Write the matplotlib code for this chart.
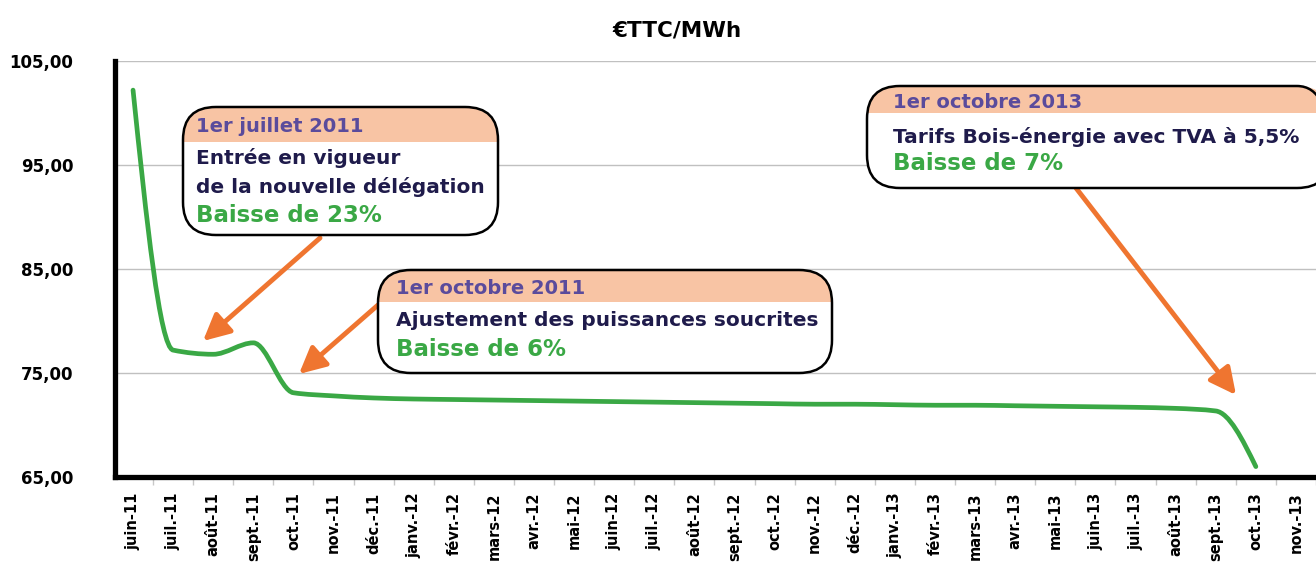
import matplotlib.pyplot as plt
from matplotlib.path import Path
from matplotlib.patches import PathPatch, FancyBboxPatch, Rectangle, FancyArrowPatch
import numpy as np

plt.rcParams['font.family'] = ['DejaVu Sans']

months = ['juin-11', 'juil.-11', 'août-11', 'sept.-11', 'oct.-11', 'nov.-11', 'déc.-11',
          'janv.-12', 'févr.-12', 'mars-12', 'avr.-12', 'mai-12', 'juin-12', 'juil.-12',
          'août-12', 'sept.-12', 'oct.-12', 'nov.-12', 'déc.-12', 'janv.-13', 'févr.-13',
          'mars-13', 'avr.-13', 'mai-13', 'juin-13', 'juil.-13', 'août-13', 'sept.-13',
          'oct.-13', 'nov.-13']
prices = [102.2, 77.2, 76.8, 77.9, 73.1, 72.8, 72.6, 72.5, 72.45, 72.4, 72.35, 72.3,
          72.25, 72.2, 72.15, 72.1, 72.05, 72.0, 72.0, 71.95, 71.9, 71.9, 71.85, 71.8,
          71.75, 71.7, 71.6, 71.35, 66.0]
yticks = [65, 75, 85, 95, 105]
ytick_labels = ['65,00', '75,00', '85,00', '95,00', '105,00']

W, H = 1316, 564
GREEN = '#3aa845'
ORANGE = '#ef7530'
PEACH = '#f8c4a4'
PURPLE = '#5a4b9c'
NAVY = '#1f1b4b'


def fpx(x, y):
    # pixel position (from top-left) -> figure fraction
    return x / W, 1 - y / H


def smooth_slopes(y):
    # monotone (pchip-like) slopes so the smoothed line does not overshoot
    y = np.asarray(y, float)
    d = np.diff(y)
    m = np.zeros_like(y)
    for k in range(1, len(y) - 1):
        if d[k - 1] * d[k] > 0:
            m[k] = 2 / (1 / d[k - 1] + 1 / d[k])
    for k, (a, b) in [(0, (d[0], d[1])), (len(y) - 1, (d[-1], d[-2]))]:
        s = (3 * a - b) / 2
        if np.sign(s) != np.sign(a):
            s = 0
        elif np.sign(a) != np.sign(b) and abs(s) > abs(3 * a):
            s = 3 * a
        m[k] = s
    return m


fig = plt.figure(figsize=(W / 100, H / 100), dpi=100)
ax = fig.add_axes([115 / W, 1 - 477 / H, 1 - 115 / W, (477 - 61) / H])

slopes = smooth_slopes(prices)
verts = [(0, prices[0])]
codes = [Path.MOVETO]
for i in range(len(prices) - 1):
    verts += [(i + 1 / 3, prices[i] + slopes[i] / 3),
              (i + 2 / 3, prices[i + 1] - slopes[i + 1] / 3),
              (i + 1, prices[i + 1])]
    codes += [Path.CURVE4] * 3
ax.add_patch(PathPatch(Path(verts, codes), fill=False, edgecolor=GREEN, lw=3.4,
                       capstyle='round', zorder=3))

ax.set_xlim(-0.45, 29.35)
ax.set_ylim(65, 105)
ax.set_yticks(yticks)
ax.set_yticklabels(ytick_labels, fontsize=12, fontweight='bold')
ax.set_xticks(range(len(months)))
ax.set_xticklabels(months, rotation=90, fontsize=10.5, fontweight='bold', va='top')
ax.tick_params(axis='y', length=0, pad=30)
ax.tick_params(axis='x', length=0, pad=11)
ax.set_xticks(np.arange(len(months)) + 0.5, minor=True)
ax.tick_params(axis='x', which='minor', length=6, color='#c8c8c8', width=1)
ax.grid(axis='y', color='#c0c0c0', lw=1)
for s in ['top', 'right']:
    ax.spines[s].set_visible(False)
for s in ['left', 'bottom']:
    ax.spines[s].set_linewidth(3.8)
    ax.spines[s].set_zorder(4)

fig.text(*fpx(677, 31), '€TTC/MWh', ha='center', va='center', fontsize=15.5,
         fontweight='bold')


def callout(x0, y0, x1, y1, head_bottom, lines):
    bx, by = fpx(x0, y1)
    bw, bh = (x1 - x0) / W, (y1 - y0) / H
    style = 'round,pad=0,rounding_size=0.025'
    box = FancyBboxPatch((bx, by), bw, bh, boxstyle=style, mutation_aspect=W / H,
                         transform=fig.transFigure, facecolor='white',
                         edgecolor='none', zorder=5)
    fig.add_artist(box)
    band = Rectangle(fpx(x0, head_bottom), bw, (head_bottom - y0) / H,
                     transform=fig.transFigure, facecolor=PEACH, edgecolor='none', zorder=5.5)
    band.set_clip_path(box)
    fig.add_artist(band)
    edge = FancyBboxPatch((bx, by), bw, bh, boxstyle=style, mutation_aspect=W / H,
                          transform=fig.transFigure, facecolor='none',
                          edgecolor='black', lw=1.8, zorder=6)
    fig.add_artist(edge)
    for (tx, ty, txt, col, size) in lines:
        fig.text(*fpx(tx, ty), txt, color=col, fontsize=size, fontweight='bold',
                 ha='left', va='center', zorder=7)


callout(183, 107, 498, 235, 142, [
    (196, 127, '1er juillet 2011', PURPLE, 14),
    (196, 158, 'Entrée en vigueur', NAVY, 14.5),
    (196, 187, 'de la nouvelle délégation', NAVY, 14.5),
    (196, 215, 'Baisse de 23%', GREEN, 16.5),
])
callout(378, 270, 832, 373, 302, [
    (396, 288, '1er octobre 2011', PURPLE, 14),
    (396, 321, 'Ajustement des puissances soucrites', NAVY, 14.5),
    (396, 350, 'Baisse de 6%', GREEN, 16.5),
])
callout(867, 86, 1330, 188, 113, [
    (893, 102, '1er octobre 2013', PURPLE, 14),
    (893, 137, 'Tarifs Bois-énergie avec TVA à 5,5%', NAVY, 14.5),
    (893, 164, 'Baisse de 7%', GREEN, 16.5),
])

for (sx, sy, ex, ey) in [(320, 238, 203, 341), (378, 305, 299, 374), (1076, 188, 1236, 395)]:
    arr = FancyArrowPatch(fpx(sx, sy), fpx(ex, ey), transform=fig.transFigure,
                          arrowstyle='-|>,head_length=16,head_width=8', color=ORANGE,
                          lw=3.5, shrinkA=0, shrinkB=0, zorder=4.5)
    fig.add_artist(arr)

fig.savefig('out.png', dpi=100)
